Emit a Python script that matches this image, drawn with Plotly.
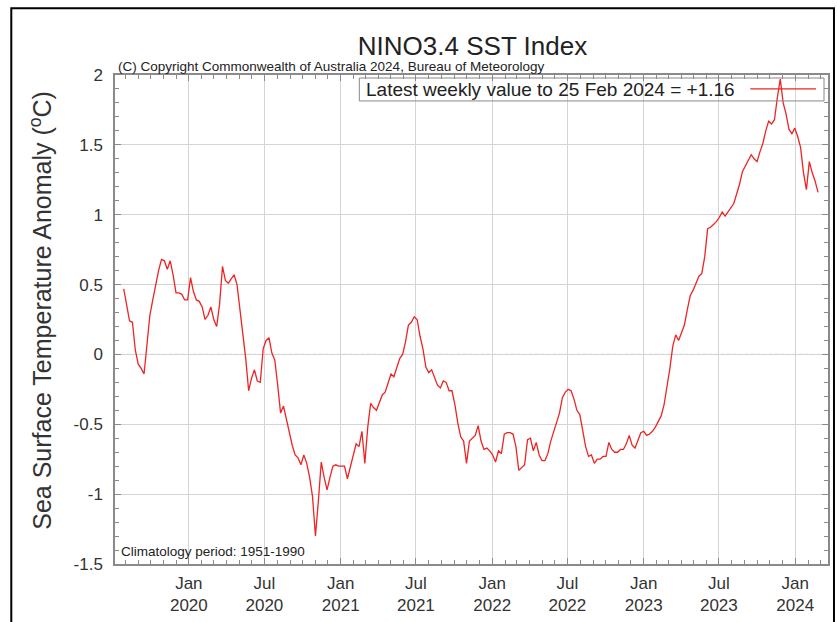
import pandas as pd
import plotly.graph_objects as go

# Weekly NINO3.4 anomaly values (deg C), weeks ending Sunday
start_week = "2019-07-28"
nino_part1 = [0.47, 0.34, 0.24, 0.23, 0.03, -0.07, -0.10, -0.14, 0.10, 0.28,
              0.39, 0.50, 0.60, 0.68, 0.67, 0.61, 0.67, 0.57, 0.44, 0.44,
              0.43, 0.39, 0.39, 0.55, 0.45, 0.39, 0.38, 0.34, 0.25, 0.28,
              0.34, 0.25, 0.20, 0.36, 0.63, 0.53, 0.51, 0.54, 0.57, 0.50,
              0.32, 0.17, -0.03, -0.26, -0.17, -0.11, -0.19, -0.20, 0.04, 0.10,
              0.12, 0.01, -0.04, -0.22, -0.42, -0.37, -0.47, -0.56, -0.65, -0.72]
nino_part2 = [-0.74, -0.79, -0.72, -0.78, -0.88, -1.02, -1.30, -1.05, -0.77, -0.88,
              -0.97, -0.88, -0.80, -0.79, -0.80, -0.80, -0.80, -0.89, -0.81, -0.74,
              -0.64, -0.66, -0.55, -0.78, -0.52, -0.35, -0.38, -0.40, -0.35, -0.29,
              -0.27, -0.21, -0.14, -0.16, -0.09, -0.03, 0.00, 0.09, 0.21, 0.23,
              0.27, 0.25, 0.13, 0.04, -0.09, -0.13, -0.11, -0.16, -0.22, -0.24,
              -0.19, -0.20, -0.26, -0.26, -0.36, -0.49, -0.59, -0.62, -0.78, -0.62]
nino_part3 = [-0.60, -0.58, -0.51, -0.62, -0.68, -0.67, -0.69, -0.72, -0.77, -0.69,
              -0.71, -0.57, -0.56, -0.56, -0.57, -0.66, -0.83, -0.81, -0.79, -0.61,
              -0.60, -0.69, -0.63, -0.72, -0.76, -0.76, -0.71, -0.62, -0.55, -0.49,
              -0.42, -0.31, -0.27, -0.25, -0.26, -0.32, -0.40, -0.43, -0.56, -0.66,
              -0.73, -0.72, -0.78, -0.75, -0.75, -0.73, -0.73, -0.63, -0.68, -0.70,
              -0.70, -0.68, -0.68, -0.64, -0.58, -0.65, -0.67, -0.62, -0.56, -0.55,
              -0.58]
nino_part4 = [-0.57, -0.55, -0.52, -0.48, -0.44, -0.36, -0.24, -0.10, 0.06, 0.14,
              0.10, 0.15, 0.21, 0.32, 0.42, 0.46, 0.51, 0.56, 0.58, 0.70,
              0.90, 0.91, 0.93, 0.95, 0.98, 1.02, 0.99, 1.02, 1.05, 1.08,
              1.15, 1.22, 1.31, 1.35, 1.38, 1.43, 1.40, 1.38, 1.45, 1.51,
              1.60, 1.67, 1.65, 1.68, 1.84, 1.97, 1.80, 1.72, 1.61, 1.58,
              1.62, 1.56, 1.48, 1.30, 1.18, 1.38, 1.30, 1.24, 1.16]

x_tick_dates = ["2020-01-01", "2020-07-01", "2021-01-01", "2021-07-01", "2022-01-01",
                "2022-07-01", "2023-01-01", "2023-07-01", "2024-01-01"]
x_tick_labels = ["Jan<br>2020", "Jul<br>2020", "Jan<br>2021", "Jul<br>2021", "Jan<br>2022",
                 "Jul<br>2022", "Jan<br>2023", "Jul<br>2023", "Jan<br>2024"]
y_tick_vals = [-1.5, -1, -0.5, 0, 0.5, 1, 1.5, 2]
y_tick_labels = ["-1.5", "-1", "-0.5", "0", "0.5", "1", "1.5", "2"]

values = nino_part1 + nino_part2 + nino_part3 + nino_part4
dates = pd.date_range(start_week, periods=len(values), freq="7D")

W, H = 837, 622
L, R, T, B = 115, 830, 75, 565  # plot area in pixels


def px(xp):
    return (xp - L) / (R - L)


def py(yp):
    return (B - yp) / (B - T)


FONT = "Liberation Sans, Arial, Helvetica, sans-serif"
GRID = "#d4d4d4"
FRAME = "#8a8a8a"
RED = "#ee2424"

fig = go.Figure()
fig.add_trace(go.Scatter(x=dates, y=values, mode="lines",
                         line=dict(color=RED, width=1.3),
                         name="Latest weekly value to 25 Feb 2024 = +1.16",
                         showlegend=False, hoverinfo="x+y"))

fig.update_layout(
    width=W, height=H,
    margin=dict(l=L, r=W - R, t=T, b=H - B),
    paper_bgcolor="white", plot_bgcolor="white",
    font=dict(family=FONT, color="#333333", size=16),
    title=dict(text="NINO3.4 SST Index", x=(L + R) / 2 / W, xanchor="center",
               y=1 - 46 / H, yanchor="middle",
               font=dict(size=26, color="#222222", family=FONT)),
    showlegend=False,
)

fig.update_xaxes(
    type="date", range=["2019-07-07", "2024-03-20"],
    tickmode="array", tickvals=x_tick_dates, ticktext=x_tick_labels,
    ticks="inside", ticklen=6, tickcolor=FRAME,
    showgrid=True, gridcolor=GRID, gridwidth=1,
    showline=True, linecolor=FRAME, linewidth=1.5, mirror="allticks",
    tickfont=dict(size=17, color="#333333"), ticklabelstandoff=3,
    minor=dict(ticks="inside", ticklen=4, tickcolor=FRAME, dtick="M1",
               tick0="2020-01-01", showgrid=False),
    zeroline=False,
)
fig.update_yaxes(
    range=[-1.5, 2], tickmode="array", tickvals=y_tick_vals, ticktext=y_tick_labels,
    ticks="inside", ticklen=6, tickcolor=FRAME,
    showgrid=True, gridcolor=GRID, gridwidth=1,
    showline=True, linecolor=FRAME, linewidth=1.5, mirror="allticks",
    tickfont=dict(size=17, color="#333333"), ticklabelstandoff=7,
    minor=dict(ticks="inside", ticklen=4, tickcolor=FRAME, dtick=0.1,
               tick0=0, showgrid=False),
    zeroline=False,
)

# dotted zero line
fig.add_shape(type="line", xref="paper", yref="y", x0=0, x1=1, y0=0, y1=0,
              line=dict(color="#8c8c8c", width=1, dash="dot"), layer="below")

# legend box drawn by hand (text left of sample line)
fig.add_shape(type="rect", xref="paper", yref="paper",
              x0=px(360), x1=px(826), y0=py(101), y1=py(78),
              line=dict(color="#888888", width=1), fillcolor="rgba(0,0,0,0)")
fig.add_annotation(xref="paper", yref="paper", x=px(739), y=py(89.5),
                   xanchor="right", yanchor="middle", showarrow=False,
                   text="Latest weekly value to 25 Feb 2024 = +1.16",
                   font=dict(size=19, color="#222222", family=FONT))
fig.add_shape(type="line", xref="paper", yref="paper",
              x0=px(752), x1=px(818), y0=py(89), y1=py(89),
              line=dict(color=RED, width=1.3))

# copyright and climatology notes
fig.add_annotation(xref="paper", yref="paper", x=px(116), y=py(66),
                   xanchor="left", yanchor="middle", showarrow=False,
                   text="(C) Copyright Commonwealth of Australia 2024, Bureau of Meteorology",
                   font=dict(size=13.5, color="#222222", family=FONT))
fig.add_annotation(xref="paper", yref="paper", x=px(119), y=py(552),
                   xanchor="left", yanchor="middle", showarrow=False,
                   text="Climatology period: 1951-1990",
                   font=dict(size=13.5, color="#222222", family=FONT))

# y axis title
fig.add_annotation(xref="paper", yref="paper", x=px(40), y=py(311),
                   xanchor="center", yanchor="middle", showarrow=False, textangle=-90,
                   text="Sea Surface Temperature Anomaly (<sup>o</sup>C)",
                   font=dict(size=25, color="#333333", family=FONT))

# outer black frame of the image
fig.add_shape(type="rect", xref="paper", yref="paper",
              x0=px(11), x1=px(836), y0=py(640), y1=py(8),
              line=dict(color="black", width=2), fillcolor="rgba(0,0,0,0)")

fig.write_html("out.html")
